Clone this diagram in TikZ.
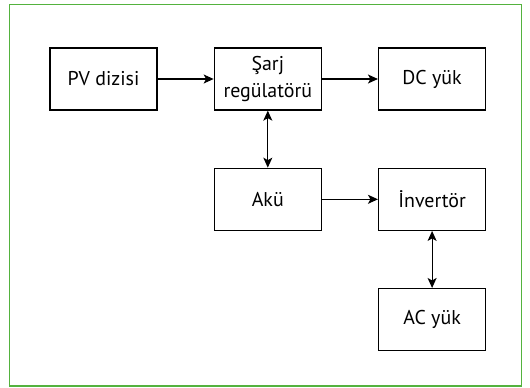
\documentclass[tikz,border=0pt]{standalone}
\usepackage{fontspec}
\setmainfont{PT Sans}
\usetikzlibrary{positioning,arrows.meta}
\definecolor{framegreen}{RGB}{84,178,62}
\tikzset{
	blok/.style={draw, line width=1.3bp, minimum width=107bp, minimum height=62bp, inner sep=2pt, align=center, font=\fontsize{20}{27}\selectfont},
	ok/.style={line width=1.2bp, -{Stealth[length=10bp,width=9bp,inset=2.5bp]}},
	ciftok/.style={line width=1.2bp, {Stealth[length=10bp,width=9bp,inset=2.5bp]}-{Stealth[length=10bp,width=9bp,inset=2.5bp]}}
}

\begin{document}
\begin{tikzpicture}[node distance=57bp and 56bp]
		% Frame
		\useasboundingbox (0,0) rectangle (530bp,-388bp);
		\draw [framegreen, line width=1.8bp] (9.5bp,-4.5bp) rectangle (521.5bp,-386bp);
		% Blocks
		\node[blok] (pv) at (103.5bp,-79bp) {PV dizisi};
		\node[blok, right=56bp of pv] (sarj) {Şarj\\regülatörü};
		\node[blok, right=56bp of sarj] (dc) {DC yük};
		\node[blok, below=57bp of sarj] (aku) {Akü};
		\node[blok, below=57bp of dc] (inv) {İnvertör};
		\node[blok, below=57bp of inv] (ac) {AC yük};
		% Connections
		\draw [ok] (pv) -- (sarj);
		\draw [ok] (sarj) -- (dc);
		\draw [ciftok] (sarj) -- (aku);
		\draw [ok] (aku) -- (inv);
		\draw [ciftok] (inv) -- (ac);
	\end{tikzpicture}
\end{document}
